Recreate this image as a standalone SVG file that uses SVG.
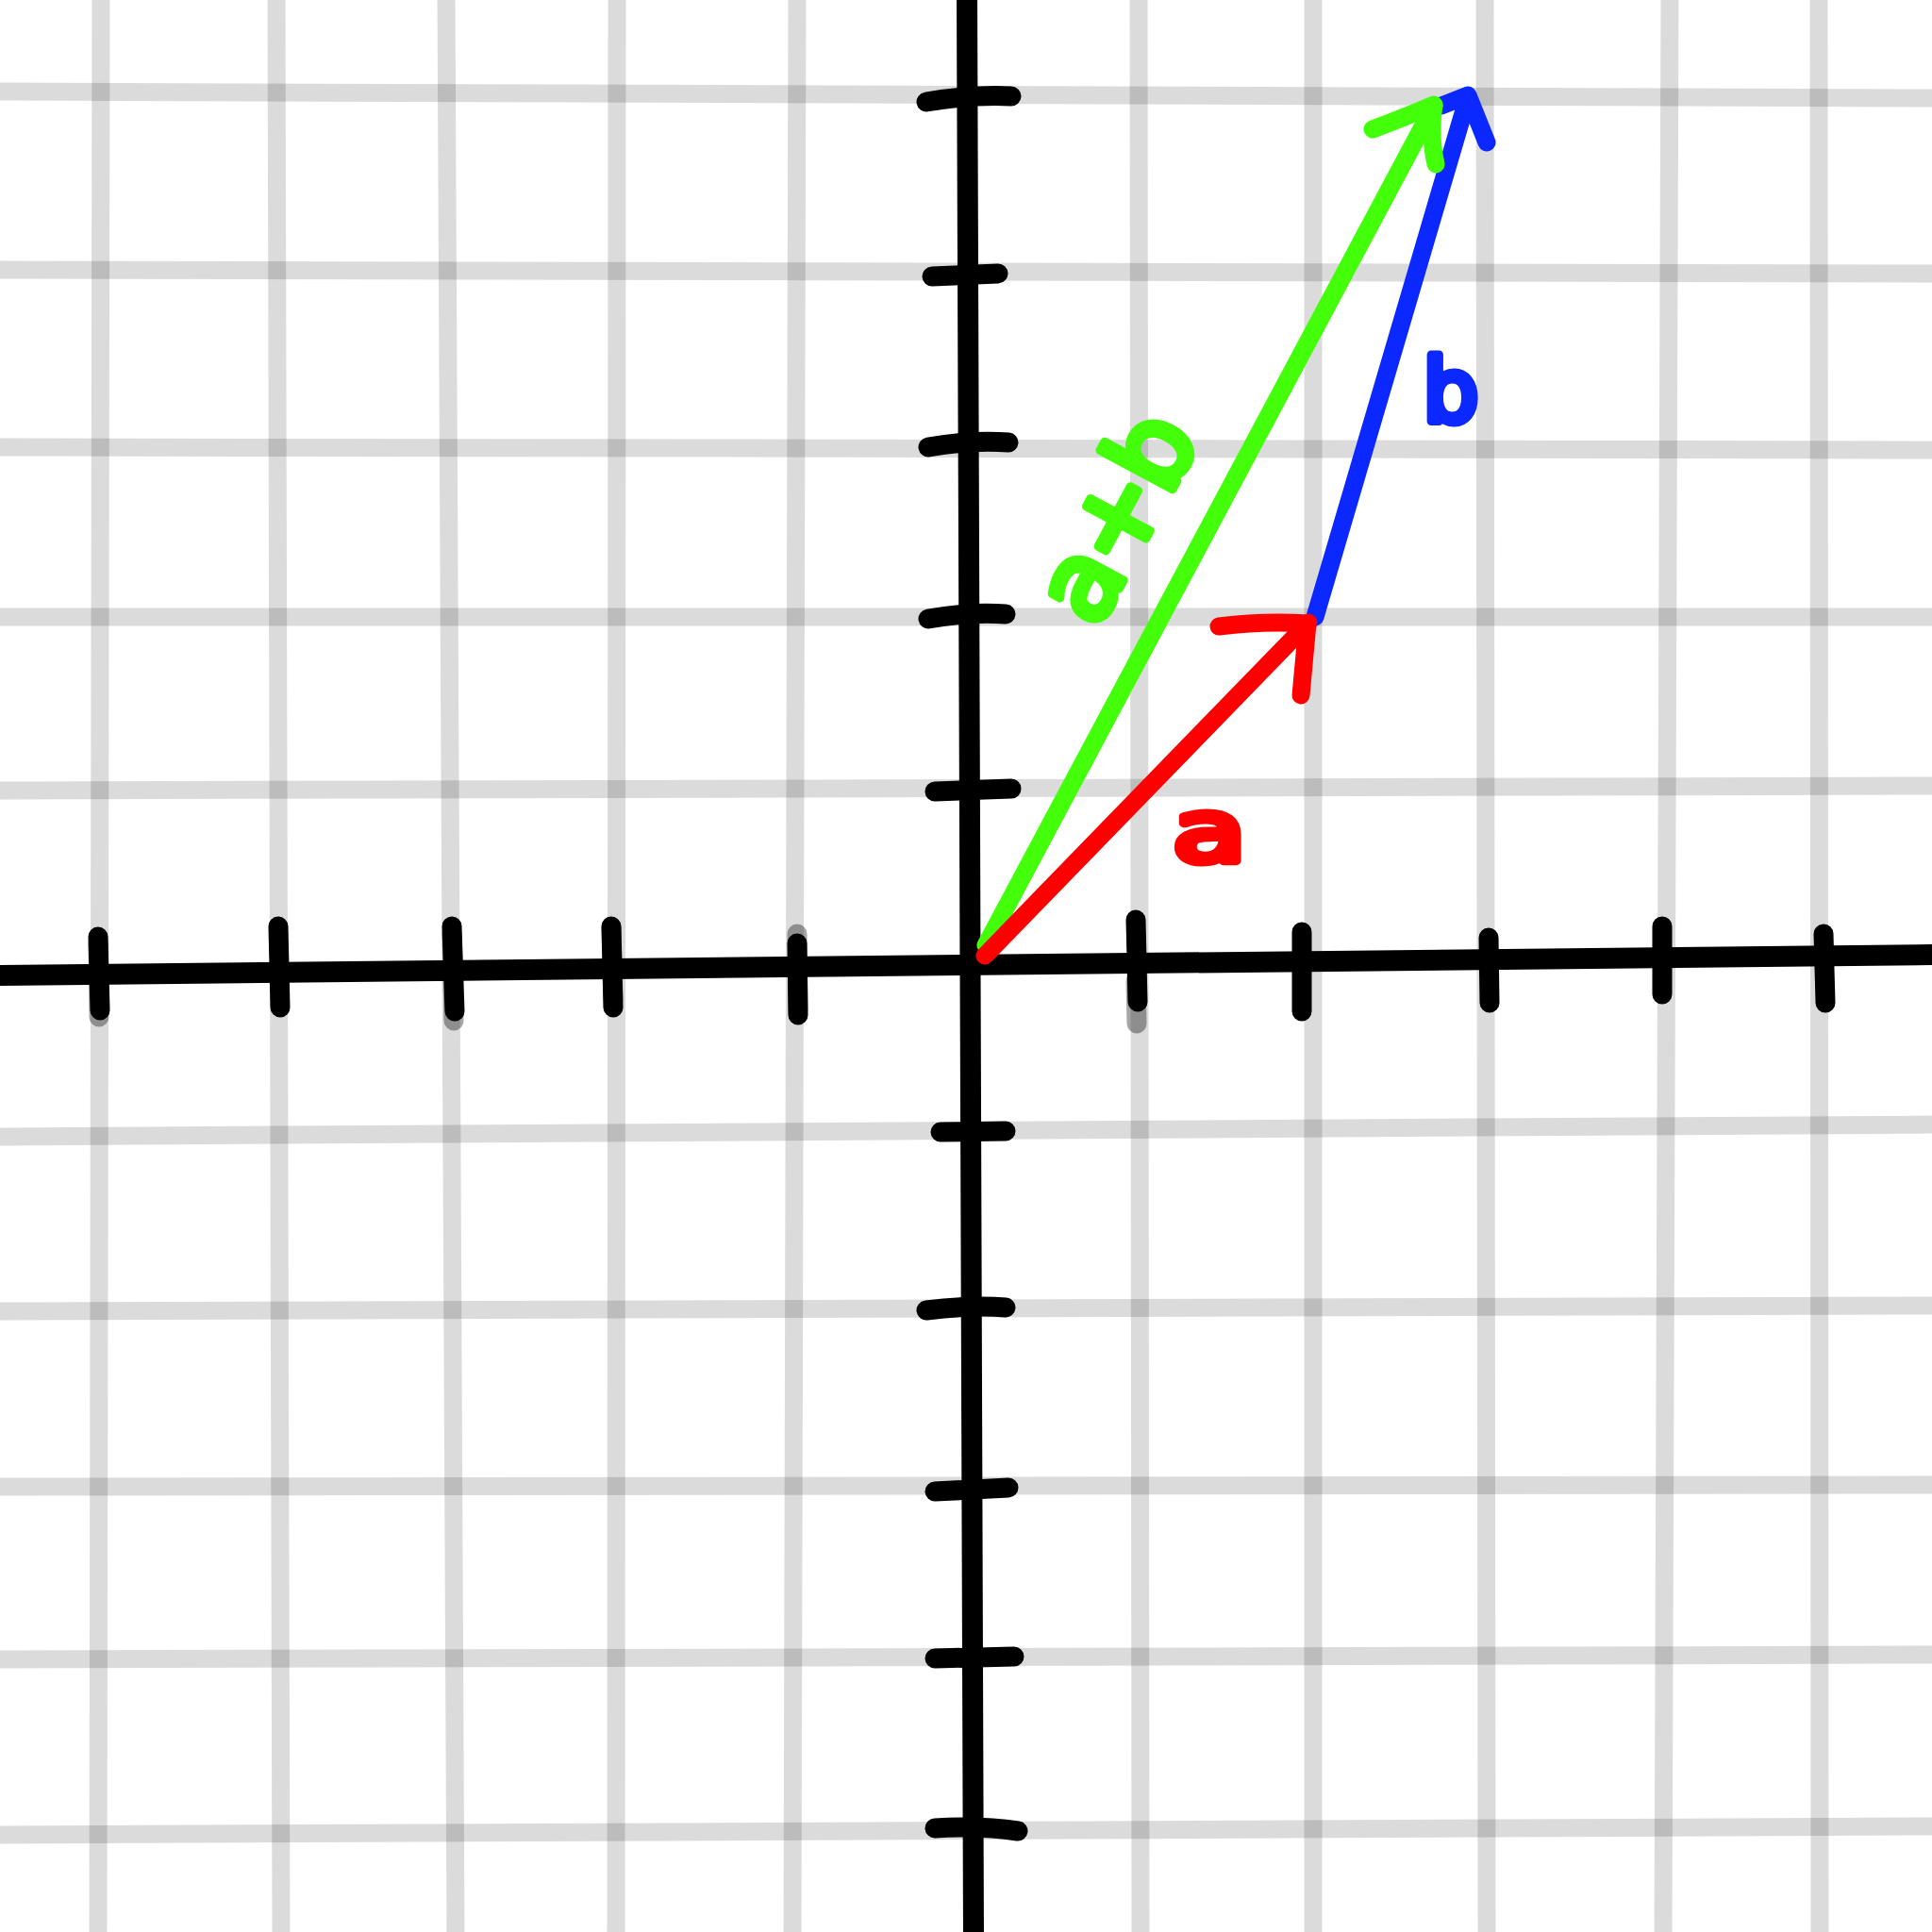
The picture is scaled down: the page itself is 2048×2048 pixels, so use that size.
<svg xmlns="http://www.w3.org/2000/svg" width="2048" height="2048" viewBox="0 0 2048 2048">
<style>
.grid line{stroke:#000;stroke-opacity:0.14;stroke-width:19;stroke-linecap:round}
.axis{stroke:#000;stroke-width:22;stroke-linecap:round;fill:none}
.tick{stroke:#000;stroke-width:21;stroke-linecap:round;fill:none}
.ghost{stroke:#000;stroke-opacity:0.35;stroke-width:21;stroke-linecap:round;fill:none}
.vec{fill:none;stroke-width:19;stroke-linecap:round;stroke-linejoin:round}
.lbl{font-family:"DejaVu Sans",sans-serif;font-weight:normal;stroke-width:9;stroke-linejoin:round;stroke-linecap:round}
</style>
<rect width="2048" height="2048" fill="#fff"/>
<g class="grid" id="grid">
<line x1="107" y1="-10" x2="104" y2="2058"/>
<line x1="293" y1="-10" x2="298" y2="2058"/>
<line x1="473" y1="-10" x2="483" y2="2058"/>
<line x1="654" y1="-10" x2="653" y2="2058"/>
<line x1="845" y1="-10" x2="840" y2="2058"/>
<line x1="1207" y1="-10" x2="1209" y2="2058"/>
<line x1="1392" y1="-10" x2="1392" y2="2058"/>
<line x1="1574" y1="-10" x2="1576" y2="2058"/>
<line x1="1770" y1="-10" x2="1763" y2="2058"/>
<line x1="1928" y1="-10" x2="1929" y2="2058"/>
<line x1="-10" y1="97" x2="2058" y2="104"/>
<line x1="-10" y1="286" x2="2058" y2="290"/>
<line x1="-10" y1="474" x2="2058" y2="477"/>
<line x1="-10" y1="654" x2="2058" y2="654"/>
<line x1="-10" y1="838" x2="2058" y2="833"/>
<line x1="-10" y1="1205" x2="2058" y2="1192"/>
<line x1="-10" y1="1390" x2="2058" y2="1384"/>
<line x1="-10" y1="1576" x2="2058" y2="1574"/>
<line x1="-10" y1="1759" x2="2058" y2="1754"/>
<line x1="-10" y1="1945" x2="2058" y2="1936"/>
</g>
<g id="axes">
<path class="ghost" d="M104 1000 L105 1078 M479 990 L481 1082 M845 990 L846 1070 M1204 1040 L1205 1085 M648 984 L650 1060"/>
<path class="axis" d="M-10 1034 L2058 1012"/>
<path class="axis" d="M1025 -10 L1032 2058"/>
<path class="tick" d="M104 993 L106 1071 M295 982 L297 1068 M479 982 L482 1072 M648 982 L650 1068 M845 1000 L846 1076 M1204 975 L1206 1062 M1380 988 L1380 1072 M1578 994 L1579 1063 M1762 982 L1762 1054 M1933 990 L1935 1063"/>
<path class="tick" d="M982 108 Q1030 100 1072 102 M988 293 L1058 290 M984 474 Q1030 466 1069 469 M984 656 Q1030 648 1066 651 M991 839 L1072 836 M997 1200 L1066 1199 M982 1389 Q1030 1383 1066 1386 M991 1581 L1069 1577 M991 1758 L1075 1756 M991 1938 Q1040 1935 1079 1941"/>
</g>
<g id="vector-b">
<path class="vec" stroke="#0a28ff" d="M1394 654 L1556 103"/>
<path class="vec" stroke="#0a28ff" d="M1528 112 L1556 101 L1576 151"/>
</g>
<g id="vector-aplusb">
<path class="vec" stroke="#44ff0a" d="M1045 1002 L1520 112"/>
<path class="vec" stroke="#44ff0a" stroke-width="17" d="M1455 137 Q1490 124 1520 111 Q1515 143 1522 174"/>
</g>
<g id="vector-a">
<path class="vec" stroke="#ff0000" stroke-width="20" d="M1044 1013 L1387 660"/>
<path class="vec" stroke="#ff0000" stroke-width="20" d="M1292 664 Q1340 658 1386 661 L1379 737"/>
</g>
<g id="labels">
<text class="lbl" fill="#ff0000" stroke="#ff0000" font-size="90" text-anchor="middle" transform="translate(1282 913) scale(1.4 1)">a</text>
<text class="lbl" fill="#44ff0a" stroke="#44ff0a" font-size="115" text-anchor="middle" letter-spacing="-4" transform="translate(1186 551) rotate(-61.7)" y="35">a+b</text>
<text class="lbl" fill="#0a28ff" stroke="#0a28ff" font-size="92" text-anchor="middle" x="1538" y="447">b</text>
</g>
</svg>
